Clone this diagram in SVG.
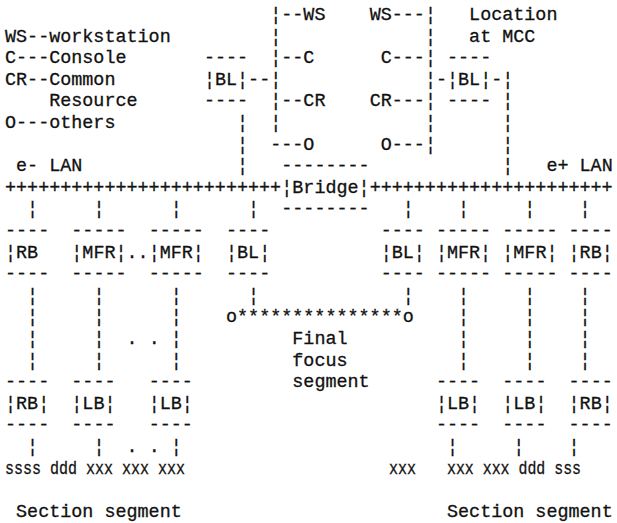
<svg xmlns="http://www.w3.org/2000/svg" width="617" height="523" viewBox="0 0 617 523">
  <style>
    text { font-family: "Liberation Mono", "DejaVu Sans Mono", monospace; font-size: 18.42px; fill: #111; stroke: #111; stroke-width: 0.3px; }
  </style>
  <rect width="617" height="523" fill="#fff"/>

  <!-- legend -->
  <g id="legend">
    <text x="5" y="41.6">WS--workstation</text>
    <text x="5" y="63.2">C---Console</text>
    <text x="5" y="84.8">CR--Common</text>
    <text x="49.2" y="106.4">Resource</text>
    <text x="5" y="128">O---others</text>
  </g>

  <g id="location-label">
    <text x="469.1" y="20">Location</text>
    <text x="469.1" y="41.6">at MCC</text>
  </g>

  <!-- consoles on the e- side of the MCC -->
  <g id="mcc-e-ws"><text x="303.35" y="20">WS</text></g>
  <g id="mcc-e-c"><text x="303.35" y="63.2">C</text></g>
  <g id="mcc-e-cr"><text x="303.35" y="106.4">CR</text></g>
  <g id="mcc-e-o"><text x="303.35" y="149.6">O</text></g>

  <!-- consoles on the e+ side of the MCC -->
  <g id="mcc-p-ws"><text x="369.65" y="20">WS</text></g>
  <g id="mcc-p-c"><text x="380.7" y="63.2">C</text></g>
  <g id="mcc-p-cr"><text x="369.65" y="106.4">CR</text></g>
  <g id="mcc-p-o"><text x="380.7" y="149.6">O</text></g>

  <!-- MCC bridges -->
  <g id="bl-mcc-e">
    <text x="203.9" y="63.2">----</text>
    <text x="203.9" y="84.8">¦BL¦</text>
    <text x="203.9" y="106.4">----</text>
  </g>
  <g id="bl-mcc-p">
    <text x="447" y="63.2">----</text>
    <text x="447" y="84.8">¦BL¦</text>
    <text x="447" y="106.4">----</text>
  </g>

  <!-- LANs and bridge -->
  <g id="e-lan">
    <text x="16.05" y="171.2">e- LAN</text>
    <text x="5" y="192.8">+++++++++++++++++++++++++</text>
  </g>
  <g id="bridge">
    <text x="281.25" y="171.2">--------</text>
    <text x="281.25" y="192.8">¦Bridge¦</text>
    <text x="281.25" y="214.4">--------</text>
  </g>
  <g id="p-lan">
    <text x="546.45" y="171.2">e+ LAN</text>
    <text x="369.65" y="192.8">++++++++++++++++++++++</text>
  </g>

  <!-- LAN drops -->
  <g id="rb-e">
    <text x="5" y="236">----</text>
    <text x="5" y="257.6">¦RB</text>
    <text x="5" y="279.2">----</text>
  </g>
  <g id="mfr-e-1">
    <text x="71.3" y="236">-----</text>
    <text x="71.3" y="257.6">¦MFR¦</text>
    <text x="71.3" y="279.2">-----</text>
  </g>
  <g id="mfr-e-2">
    <text x="148.65" y="236">-----</text>
    <text x="148.65" y="257.6">¦MFR¦</text>
    <text x="148.65" y="279.2">-----</text>
  </g>
  <g id="bl-e">
    <text x="226" y="236">----</text>
    <text x="226" y="257.6">¦BL¦</text>
    <text x="226" y="279.2">----</text>
  </g>
  <g id="bl-p">
    <text x="380.7" y="236">----</text>
    <text x="380.7" y="257.6">¦BL¦</text>
    <text x="380.7" y="279.2">----</text>
  </g>
  <g id="mfr-p-1">
    <text x="435.95" y="236">-----</text>
    <text x="435.95" y="257.6">¦MFR¦</text>
    <text x="435.95" y="279.2">-----</text>
  </g>
  <g id="mfr-p-2">
    <text x="502.25" y="236">-----</text>
    <text x="502.25" y="257.6">¦MFR¦</text>
    <text x="502.25" y="279.2">-----</text>
  </g>
  <g id="rb-p">
    <text x="568.55" y="236">----</text>
    <text x="568.55" y="257.6">¦RB¦</text>
    <text x="568.55" y="279.2">----</text>
  </g>

  <!-- final focus segment -->
  <g id="final-focus">
    <text x="292.3" y="344">Final</text>
    <text x="292.3" y="365.6">focus</text>
    <text x="292.3" y="387.2">segment</text>
  </g>

  <!-- section boxes -->
  <g id="rb-e-sect">
    <text x="5" y="387.2">----</text>
    <text x="5" y="408.8">¦RB¦</text>
    <text x="5" y="430.4">----</text>
  </g>
  <g id="lb-e-1">
    <text x="71.3" y="387.2">----</text>
    <text x="71.3" y="408.8">¦LB¦</text>
    <text x="71.3" y="430.4">----</text>
  </g>
  <g id="lb-e-2">
    <text x="148.65" y="387.2">----</text>
    <text x="148.65" y="408.8">¦LB¦</text>
    <text x="148.65" y="430.4">----</text>
  </g>
  <g id="lb-p-1">
    <text x="435.95" y="387.2">----</text>
    <text x="435.95" y="408.8">¦LB¦</text>
    <text x="435.95" y="430.4">----</text>
  </g>
  <g id="lb-p-2">
    <text x="502.25" y="387.2">----</text>
    <text x="502.25" y="408.8">¦LB¦</text>
    <text x="502.25" y="430.4">----</text>
  </g>
  <g id="rb-p-sect">
    <text x="568.55" y="387.2">----</text>
    <text x="568.55" y="408.8">¦RB¦</text>
    <text x="568.55" y="430.4">----</text>
  </g>

  <!-- end stations -->
  <g id="stations-e">
    <text x="5" y="473.6" textLength="180" lengthAdjust="spacingAndGlyphs">ssss ddd xxx xxx xxx</text>
  </g>
  <g id="stations-p">
    <text x="389" y="473.6" textLength="27" lengthAdjust="spacingAndGlyphs">xxx</text>
    <text x="447" y="473.6" textLength="134" lengthAdjust="spacingAndGlyphs">xxx xxx ddd sss</text>
  </g>

  <g id="section-labels">
    <text x="16.05" y="516.8">Section segment</text>
    <text x="447" y="516.8">Section segment</text>
  </g>

  <!-- connectors: broken bars and dashes -->
  <g id="connectors">
    <!-- e- side console bus -->
    <text x="270.2" y="20">¦--</text>
    <text x="270.2" y="41.6">¦</text>
    <text x="270.2" y="63.2">¦--</text>
    <text x="248.1" y="84.8">--¦</text>
    <text x="270.2" y="106.4">¦--</text>
    <text x="270.2" y="128">¦</text>
    <text x="270.2" y="149.6">---</text>
    <!-- e+ side console bus -->
    <text x="391.75" y="20">---¦</text>
    <text x="424.9" y="41.6">¦</text>
    <text x="391.75" y="63.2">---¦</text>
    <text x="424.9" y="84.8">¦-</text>
    <text x="391.75" y="106.4">---¦</text>
    <text x="424.9" y="128">¦</text>
    <text x="391.75" y="149.6">---¦</text>
    <!-- MCC bridge drop to the e+ LAN -->
    <text x="491.2" y="84.8">-¦</text>
    <text x="502.25" y="106.4">¦</text>
    <text x="502.25" y="128">¦</text>
    <text x="502.25" y="149.6">¦</text>
    <text x="502.25" y="171.2">¦</text>
    <!-- MCC bridge drop to the e- LAN -->
    <text x="237.05" y="128">¦</text>
    <text x="237.05" y="149.6">¦</text>
    <text x="237.05" y="171.2">¦</text>

    <!-- LAN taps -->
    <g>
      <text x="27.1" y="214.4">¦</text><text x="93.4" y="214.4">¦</text><text x="170.75" y="214.4">¦</text><text x="248.1" y="214.4">¦</text>
      <text x="402.8" y="214.4">¦</text><text x="458.05" y="214.4">¦</text><text x="524.35" y="214.4">¦</text><text x="579.6" y="214.4">¦</text>
    </g>
    <text x="126.55" y="257.6">..</text>

    <!-- drops to section boxes -->
    <g>
      <text x="27.1" y="300.8">¦</text><text x="93.4" y="300.8">¦</text><text x="170.75" y="300.8">¦</text><text x="248.1" y="300.8">¦</text>
      <text x="402.8" y="300.8">¦</text><text x="458.05" y="300.8">¦</text><text x="524.35" y="300.8">¦</text><text x="579.6" y="300.8">¦</text>

      <text x="27.1" y="322.4">¦</text><text x="93.4" y="322.4">¦</text><text x="170.75" y="322.4">¦</text>
      <text x="458.05" y="322.4">¦</text><text x="524.35" y="322.4">¦</text><text x="579.6" y="322.4">¦</text>

      <text x="27.1" y="344">¦</text><text x="93.4" y="344">¦</text><text x="126.55" y="344">. .</text><text x="170.75" y="344">¦</text>
      <text x="458.05" y="344">¦</text><text x="524.35" y="344">¦</text><text x="579.6" y="344">¦</text>

      <text x="27.1" y="365.6">¦</text><text x="93.4" y="365.6">¦</text><text x="170.75" y="365.6">¦</text>
      <text x="458.05" y="365.6">¦</text><text x="524.35" y="365.6">¦</text><text x="579.6" y="365.6">¦</text>
    </g>

    <!-- final focus link -->
    <text x="226" y="322.4">o***************o</text>

    <!-- drops to end stations -->
    <g>
      <text x="27.1" y="452">¦</text><text x="93.4" y="452">¦</text><text x="126.55" y="452">. .</text><text x="170.75" y="452">¦</text>
      <text x="447" y="452">¦</text><text x="513.3" y="452">¦</text><text x="568.55" y="452">¦</text>
    </g>
  </g>
</svg>
